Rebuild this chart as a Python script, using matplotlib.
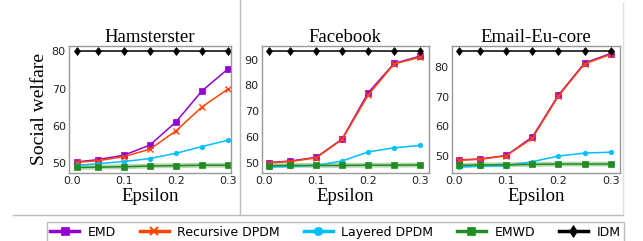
import matplotlib
matplotlib.use("Agg")
import matplotlib.pyplot as plt
from matplotlib.lines import Line2D

eps = [0.01, 0.05, 0.1, 0.15, 0.2, 0.25, 0.3]
titles = ["Hamsterster", "Facebook", "Email-Eu-core"]
series_names = ["EMD", "Recursive DPDM", "Layered DPDM", "EMWD", "IDM"]

ham_emd = [50.4, 51.0, 52.2, 54.9, 61.1, 69.4, 75.3]
ham_rec = [50.3, 50.7, 51.8, 53.8, 58.7, 65.1, 69.9]
ham_lay = [49.5, 49.9, 50.5, 51.3, 52.7, 54.5, 56.2]
ham_emwd = [48.9, 49.0, 49.1, 49.3, 49.4, 49.5, 49.5]
ham_idm = [80.0, 80.0, 80.0, 80.0, 80.0, 80.0, 80.0]

fb_emd = [50.3, 50.9, 52.3, 59.4, 77.2, 88.5, 91.3]
fb_rec = [50.2, 50.7, 52.1, 59.2, 76.3, 88.3, 90.9]
fb_lay = [48.6, 48.8, 49.2, 50.9, 54.4, 56.0, 56.9]
fb_emwd = [49.1, 49.2, 49.2, 49.2, 49.3, 49.3, 49.4]
fb_idm = [93.1, 93.1, 93.1, 93.1, 93.1, 93.1, 93.1]

em_emd = [48.7, 49.0, 50.2, 56.4, 70.5, 81.3, 84.5]
em_rec = [48.6, 48.9, 50.1, 56.0, 70.2, 81.0, 84.2]
em_lay = [46.3, 46.6, 46.7, 48.1, 50.0, 51.0, 51.3]
em_emwd = [46.9, 47.0, 47.1, 47.2, 47.3, 47.3, 47.3]
em_idm = [85.2, 85.2, 85.2, 85.2, 85.2, 85.2, 85.2]

data = [
    [ham_emd, ham_rec, ham_lay, ham_emwd, ham_idm],
    [fb_emd, fb_rec, fb_lay, fb_emwd, fb_idm],
    [em_emd, em_rec, em_lay, em_emwd, em_idm],
]
yticks = [[50, 60, 70, 80], [50, 60, 70, 80, 90], [50, 60, 70, 80]]
xticks = [0.0, 0.1, 0.2, 0.3]
ylims = [(47.5, 81.6), (46.4, 95.4), (44.4, 87.2)]
xlims = [(-0.005, 0.306), (-0.0035, 0.316), (-0.0034, 0.318)]

colors = ["#9400D3", "#FF4500", "#00BFFF", "#228B22", "#000000"]
markers = ["s", "x", "o", "s", "d"]
msizes = [4.3, 4.3, 3.3, 4.3, 4.3]

W, H = 643, 241
fig = plt.figure(figsize=(W / 100, H / 100), dpi=100)

boxes = [(69.3, 231.0), (262.3, 428.5), (452.3, 620.0)]
top, bot = 45.5, 172.7
serif = "Liberation Serif"

for i, (l, r) in enumerate(boxes):
    ax = fig.add_axes([l / W, (H - bot) / H, (r - l) / W, (bot - top) / H])
    for j, ys in enumerate(data[i]):
        if j == 3:
            ax.plot(eps, ys, color=colors[j], lw=3.5, alpha=0.35, zorder=1)
        ax.plot(eps, ys, color=colors[j], marker=markers[j], ms=msizes[j],
                lw=1.1, mew=1.0 if markers[j] == "x" else 0.5, zorder=2)
    ax.set_xlim(*xlims[i])
    ax.set_ylim(*ylims[i])
    ax.set_xticks(xticks)
    ax.set_xticklabels(["0.0", "0.1", "0.2", "0.3"])
    ax.set_yticks(yticks[i])
    ax.tick_params(length=0, labelsize=8, pad=2.5, colors="#222222")
    for s in ax.spines.values():
        s.set_color("#999999")
        s.set_linewidth(1.0)
    ax.set_title(titles[i], fontsize=13.5, family=serif, pad=2.5)
    ax.set_xlabel("Epsilon", fontsize=13.5, family=serif, labelpad=1)
    if i == 0:
        ax.set_ylabel("Social welfare", fontsize=14, family=serif, labelpad=3)

# separator lines
fig.add_artist(Line2D([240 / W, 240 / W], [1.0, 1 - 215 / H], transform=fig.transFigure,
                      color="#bbbbbb", lw=1.0))
fig.add_artist(Line2D([623 / W, 623 / W], [1 - 3 / H, 1 - 215 / H], transform=fig.transFigure,
                      color="#e0e0e0", lw=1.0))
fig.add_artist(Line2D([13 / W, 623 / W], [1 - 215 / H, 1 - 215 / H], transform=fig.transFigure,
                      color="#bbbbbb", lw=1.0))

handles = [Line2D([], [], color=colors[j], marker=markers[j], ms=6, lw=2.5,
                  mew=1.5 if markers[j] == "x" else 0.5) for j in range(5)]
leg = fig.legend(handles, series_names, loc="upper left", ncol=5,
                 bbox_to_anchor=(46.7 / W, 1 - 222 / H), frameon=True, fancybox=False,
                 fontsize=9, handlelength=2.3, handletextpad=0.7, columnspacing=1.9,
                 borderpad=0.3, borderaxespad=0)
leg.get_frame().set_edgecolor("#aaaaaa")
leg.get_frame().set_linewidth(1.0)

fig.savefig("out.png", dpi=100)
